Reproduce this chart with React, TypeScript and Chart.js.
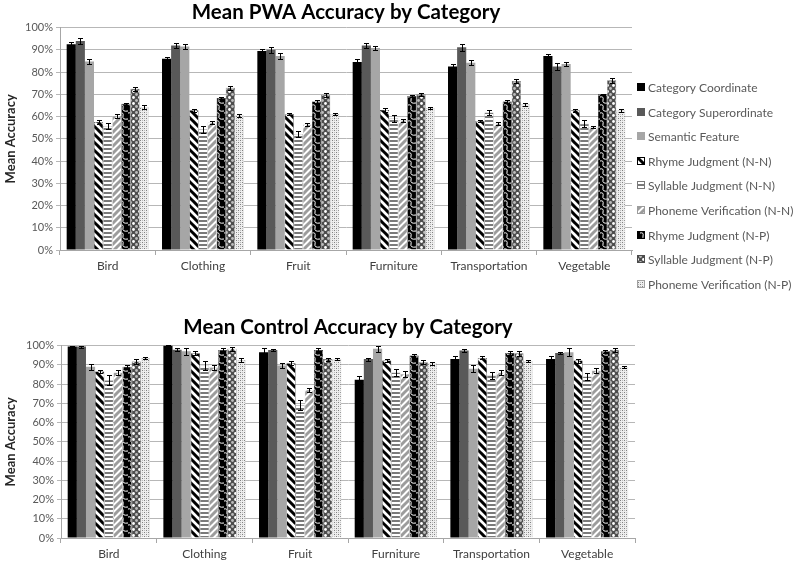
import React, { useEffect, useRef } from 'react';
import { Chart, registerables } from 'chart.js';

Chart.register(...registerables);

// ---------- DATA ----------
const categories = ['Bird', 'Clothing', 'Fruit', 'Furniture', 'Transportation', 'Vegetable'];

const seriesLabels = [
  'Category Coordinate',
  'Category Superordinate',
  'Semantic Feature',
  'Rhyme Judgment (N-N)',
  'Syllable Judgment (N-N)',
  'Phoneme Verification (N-N)',
  'Rhyme Judgment (N-P)',
  'Syllable Judgment (N-P)',
  'Phoneme Verification (N-P)',
];

const yTickValues = [0, 10, 20, 30, 40, 50, 60, 70, 80, 90, 100];

// PWA means (%)
const pwaCategoryCoordinate = [92.5, 86, 89.5, 84.5, 82.5, 87.2];
const pwaCategorySuperordinate = [94, 92, 90, 92, 91.2, 82.5];
const pwaSemanticFeature = [84.8, 91.5, 87.2, 90.8, 84.2, 83.6];
const pwaRhymeNN = [57.6, 62.8, 61.1, 63, 58, 62.8];
const pwaSyllableNN = [55.8, 54.3, 52.2, 59.2, 61.8, 56.8];
const pwaPhonemeNN = [60.2, 57.3, 56.4, 58.3, 56.9, 55.2];
const pwaRhymeNP = [65.8, 68.3, 66.8, 69.2, 66.8, 70];
const pwaSyllableNP = [72.5, 72.9, 69.8, 70, 76, 76.3];
const pwaPhonemeNP = [64.3, 60.6, 61.2, 63.8, 65.5, 62.8];

// PWA standard errors (%)
const pwaErrCategoryCoordinate = [1, 0.8, 0.8, 1.2, 1, 1];
const pwaErrCategorySuperordinate = [1.5, 1.2, 1.5, 1.2, 1.5, 1.5];
const pwaErrSemanticFeature = [1, 1, 1.2, 1, 1.2, 1];
const pwaErrRhymeNN = [1, 0.8, 0.6, 0.8, 0.6, 0.8];
const pwaErrSyllableNN = [1.5, 1.5, 1.2, 1.5, 1.2, 1.5];
const pwaErrPhonemeNN = [0.8, 0.8, 0.8, 0.6, 0.8, 0.5];
const pwaErrRhymeNP = [0.5, 0.5, 0.6, 0.5, 0.5, 0.3];
const pwaErrSyllableNP = [1, 1, 0.8, 0.8, 1, 1.2];
const pwaErrPhonemeNP = [0.7, 0.6, 0.6, 0.6, 0.7, 0.7];

// Control means (%)
const ctlCategoryCoordinate = [99.5, 100, 96.5, 82.2, 93, 93];
const ctlCategorySuperordinate = [99.5, 97.8, 97.7, 93, 97.4, 96.2];
const ctlSemanticFeature = [89, 97, 89.6, 98.3, 88, 96.5];
const ctlRhymeNN = [86.5, 96, 90.8, 92.2, 93.6, 92.2];
const ctlSyllableNN = [82, 89.6, 69, 86, 84.5, 84];
const ctlPhonemeNN = [86, 88.7, 77, 85.3, 86, 87];
const ctlRhymeNP = [89, 97.7, 97.7, 94.8, 96.2, 97];
const ctlSyllableNP = [91.7, 98.3, 93, 91.3, 96, 97.8];
const ctlPhonemeNP = [93.6, 92.5, 93, 90.8, 92, 88.7];

// Control standard errors (%)
const ctlErrCategoryCoordinate = [0.3, 0.2, 2, 2, 1.8, 1.8];
const ctlErrCategorySuperordinate = [0.5, 0.8, 0.7, 0.8, 0.6, 0.6];
const ctlErrSemanticFeature = [1.5, 1.8, 1.2, 1.5, 1.8, 2];
const ctlErrRhymeNN = [1, 1, 1, 0.8, 0.8, 1];
const ctlErrSyllableNN = [2.5, 2.5, 2.5, 2, 1.8, 2];
const ctlErrPhonemeNN = [1.5, 1.2, 1.2, 1.5, 1.2, 1.2];
const ctlErrRhymeNP = [0.8, 0.8, 1, 1, 1, 0.8];
const ctlErrSyllableNP = [1.2, 1, 0.8, 1, 1.2, 1.2];
const ctlErrPhonemeNP = [0.6, 0.8, 0.6, 0.8, 0.5, 0.5];

const pwaValues = [
  pwaCategoryCoordinate, pwaCategorySuperordinate, pwaSemanticFeature,
  pwaRhymeNN, pwaSyllableNN, pwaPhonemeNN, pwaRhymeNP, pwaSyllableNP, pwaPhonemeNP,
];
const pwaErrors = [
  pwaErrCategoryCoordinate, pwaErrCategorySuperordinate, pwaErrSemanticFeature,
  pwaErrRhymeNN, pwaErrSyllableNN, pwaErrPhonemeNN, pwaErrRhymeNP, pwaErrSyllableNP, pwaErrPhonemeNP,
];
const ctlValues = [
  ctlCategoryCoordinate, ctlCategorySuperordinate, ctlSemanticFeature,
  ctlRhymeNN, ctlSyllableNN, ctlPhonemeNN, ctlRhymeNP, ctlSyllableNP, ctlPhonemeNP,
];
const ctlErrors = [
  ctlErrCategoryCoordinate, ctlErrCategorySuperordinate, ctlErrSemanticFeature,
  ctlErrRhymeNN, ctlErrSyllableNN, ctlErrPhonemeNN, ctlErrRhymeNP, ctlErrSyllableNP, ctlErrPhonemeNP,
];

// ---------- PATTERNS ----------
function makeTile(w: number, h: number, draw: (c: CanvasRenderingContext2D) => void) {
  const cv = document.createElement('canvas');
  cv.width = w;
  cv.height = h;
  const c = cv.getContext('2d') as CanvasRenderingContext2D;
  draw(c);
  return cv;
}

function makeFills(ctx: CanvasRenderingContext2D): any[] {
  const rhymeNN = makeTile(8, 8, (c) => {
    c.fillStyle = '#fff';
    c.fillRect(0, 0, 8, 8);
    c.strokeStyle = '#000';
    c.lineWidth = 3;
    c.beginPath();
    for (let k = -8; k <= 8; k += 8) {
      c.moveTo(k - 1, -1);
      c.lineTo(k + 9, 9);
    }
    c.stroke();
  });
  const syllableNN = makeTile(4, 4, (c) => {
    c.fillStyle = '#fff';
    c.fillRect(0, 0, 4, 4);
    c.fillStyle = '#7a7a7a';
    c.fillRect(0, 0, 4, 2);
  });
  const phonemeNN = makeTile(7, 7, (c) => {
    c.fillStyle = '#fff';
    c.fillRect(0, 0, 7, 7);
    c.strokeStyle = '#9c9c9c';
    c.lineWidth = 3;
    c.beginPath();
    for (let k = -7; k <= 7; k += 7) {
      c.moveTo(k - 1, 8);
      c.lineTo(k + 8, -1);
    }
    c.stroke();
  });
  const rhymeNP = makeTile(8, 8, (c) => {
    c.fillStyle = '#000';
    c.fillRect(0, 0, 8, 8);
    c.strokeStyle = '#fff';
    c.lineWidth = 1;
    c.beginPath();
    c.moveTo(0, 1);
    c.quadraticCurveTo(4, 0, 3, 4);
    c.quadraticCurveTo(2, 8, 8, 7);
    c.stroke();
  });
  const syllableNP = makeTile(6, 6, (c) => {
    c.fillStyle = '#4d4d4d';
    c.fillRect(0, 0, 6, 6);
    c.fillStyle = '#ffffff';
    c.beginPath();
    c.arc(1.5, 1.5, 1.4, 0, Math.PI * 2);
    c.fill();
    c.fillStyle = '#bdbdbd';
    c.beginPath();
    c.arc(4.5, 4.5, 1.4, 0, Math.PI * 2);
    c.fill();
  });
  const phonemeNP = makeTile(4, 4, (c) => {
    c.fillStyle = '#eeeeee';
    c.fillRect(0, 0, 4, 4);
    c.fillStyle = '#808080';
    c.fillRect(0, 0, 1, 1);
    c.fillRect(2, 2, 1, 1);
    c.fillStyle = '#bbbbbb';
    c.fillRect(2, 0, 1, 1);
    c.fillRect(0, 2, 1, 1);
  });
  return [
    '#000000',
    '#595959',
    '#a6a6a6',
    ctx.createPattern(rhymeNN, 'repeat'),
    ctx.createPattern(syllableNN, 'repeat'),
    ctx.createPattern(phonemeNN, 'repeat'),
    ctx.createPattern(rhymeNP, 'repeat'),
    ctx.createPattern(syllableNP, 'repeat'),
    ctx.createPattern(phonemeNP, 'repeat'),
  ];
}

const swatchBorders = ['#000', '#595959', '#a6a6a6', '#000', '#7a7a7a', '#9c9c9c', '#000', '#4d4d4d', '#a0a0a0'];
const barBorders = ['#000', '#595959', '#a6a6a6', '#000', '#9a9a9a', '#c4c4c4', '#000', '#4d4d4d', '#c4c4c4'];

// ---------- PLUGINS ----------
const errorBarPlugin = {
  id: 'errorBars',
  afterDatasetsDraw(chart: any) {
    const ctx = chart.ctx;
    const yScale = chart.scales.y;
    ctx.save();
    ctx.strokeStyle = '#000';
    ctx.lineWidth = 1;
    chart.data.datasets.forEach((ds: any, i: number) => {
      const meta = chart.getDatasetMeta(i);
      meta.data.forEach((bar: any, j: number) => {
        const v = ds.data[j];
        const e = ds.errors[j];
        const x = Math.round(bar.x) + 0.5;
        const yt = Math.round(yScale.getPixelForValue(v + e)) + 0.5;
        const yb = Math.round(yScale.getPixelForValue(v - e)) + 0.5;
        ctx.beginPath();
        ctx.moveTo(x, yt);
        ctx.lineTo(x, yb);
        ctx.moveTo(x - 2.5, yt);
        ctx.lineTo(x + 2.5, yt);
        ctx.moveTo(x - 2.5, yb);
        ctx.lineTo(x + 2.5, yb);
        ctx.stroke();
      });
    });
    ctx.restore();
  },
};

const sideLegendPlugin = {
  id: 'sideLegend',
  afterDraw(chart: any, _args: any, opts: any) {
    if (!opts || !opts.display) return;
    const ctx = chart.ctx;
    ctx.save();
    ctx.font = '12px Lato';
    ctx.textBaseline = 'middle';
    ctx.textAlign = 'left';
    const x = chart.chartArea.right + opts.offsetX;
    chart.data.datasets.forEach((ds: any, i: number) => {
      const cy = Math.round(opts.top + i * opts.step);
      ctx.fillStyle = ds.backgroundColor;
      ctx.fillRect(x, cy - 4, 8, 8);
      ctx.strokeStyle = ds.swatchBorder;
      ctx.lineWidth = 1;
      ctx.strokeRect(x + 0.5, cy - 3.5, 7, 7);
      ctx.fillStyle = '#595959';
      ctx.fillText(ds.label, x + 11, cy + 1);
    });
    ctx.restore();
  },
};

function buildConfig(
  fills: any[],
  values: number[][],
  errors: number[][],
  title: string,
  opt: { padRight: number; yWidth: number; xHeight: number; titlePad: any; legend: boolean }
): any {
  return {
    type: 'bar',
    data: {
      labels: categories,
      datasets: seriesLabels.map((label, i) => ({
        label,
        data: values[i],
        errors: errors[i],
        backgroundColor: fills[i],
        swatchBorder: swatchBorders[i],
        borderColor: barBorders[i],
        borderWidth: i >= 3 ? { left: 0.5, right: 0.5, top: 0.5, bottom: 0 } : 0,
        categoryPercentage: 0.86,
        barPercentage: 1.0,
      })),
    },
    options: {
      responsive: false,
      animation: false,
      layout: { padding: { left: 0, right: opt.padRight, top: 0, bottom: 0 } },
      plugins: {
        legend: { display: false },
        tooltip: { enabled: false },
        title: {
          display: true,
          text: title,
          fullSize: false,
          color: '#000',
          font: { family: 'Lato', size: 20.5, weight: 'bold' },
          padding: opt.titlePad,
        },
        sideLegend: { display: opt.legend, offsetX: 5, top: 87, step: 24.6 },
      },
      scales: {
        x: {
          afterFit: (s: any) => {
            s.height = opt.xHeight;
          },
          grid: {
            display: true,
            drawOnChartArea: false,
            drawTicks: true,
            tickLength: 5,
            offset: true,
            color: '#a6a6a6',
          },
          border: { display: true, color: '#a6a6a6' },
          ticks: {
            color: '#404040',
            font: { family: 'Lato', size: 12 },
            padding: 4,
            maxRotation: 0,
          },
        },
        y: {
          min: 0,
          max: 100,
          afterFit: (s: any) => {
            s.width = opt.yWidth;
          },
          afterBuildTicks: (s: any) => {
            s.ticks = yTickValues.map((v) => ({ value: v }));
          },
          grid: { color: '#b7b7b7', tickLength: 4, lineWidth: 1 },
          border: { display: true, color: '#a6a6a6' },
          ticks: {
            color: '#595959',
            font: { family: 'Lato', size: 11 },
            padding: 3,
            callback: (v: any) => v + '%',
          },
          title: {
            display: true,
            text: 'Mean Accuracy',
            color: '#262626',
            font: { family: 'Lato', size: 13, weight: 'bold' },
            padding: { top: 3, bottom: 0 },
          },
        },
      },
    },
    plugins: [errorBarPlugin, sideLegendPlugin],
  };
}

export default function App() {
  const topRef = useRef<HTMLCanvasElement | null>(null);
  const botRef = useRef<HTMLCanvasElement | null>(null);

  useEffect(() => {
    const topCtx = topRef.current!.getContext('2d') as CanvasRenderingContext2D;
    const botCtx = botRef.current!.getContext('2d') as CanvasRenderingContext2D;
    const topChart = new Chart(
      topCtx,
      buildConfig(makeFills(topCtx), pwaValues, pwaErrors, 'Mean PWA Accuracy by Category', {
        padRight: 168,
        yWidth: 60,
        xHeight: 50,
        titlePad: { top: 0, bottom: 3 },
        legend: true,
      })
    );
    const botChart = new Chart(
      botCtx,
      buildConfig(makeFills(botCtx), ctlValues, ctlErrors, 'Mean Control Accuracy by Category', {
        padRight: 165,
        yWidth: 61,
        xHeight: 25,
        titlePad: { top: 15, bottom: 6 },
        legend: false,
      })
    );
    return () => {
      topChart.destroy();
      botChart.destroy();
    };
  }, []);

  return (
    <div style={{ position: 'absolute', left: 0, top: 0, width: 800, height: 563, background: '#fff' }}>
      <canvas ref={topRef} width={800} height={300} style={{ display: 'block', width: 800, height: 300 }} />
      <canvas ref={botRef} width={800} height={263} style={{ display: 'block', width: 800, height: 263 }} />
    </div>
  );
}
